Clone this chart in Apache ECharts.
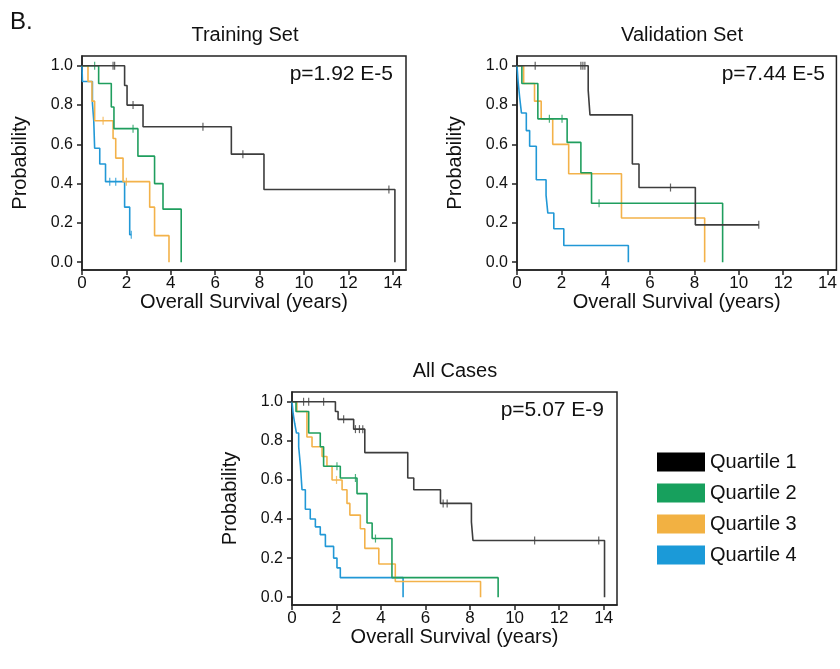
<!DOCTYPE html>
<html>
<head>
<meta charset="utf-8">
<script src="https://cdn.jsdelivr.net/npm/echarts@6/dist/echarts.min.js"></script>
<style>
  html, body { margin: 0; padding: 0; background: #fff; }
  #main { width: 840px; height: 669px; }
</style>
</head>
<body>
<div id="main"></div>
<script>
// Kaplan-Meier curves: T = event times (years), S = survival after the step
var quartiles = ['Quartile 1', 'Quartile 2', 'Quartile 3', 'Quartile 4'];
var xTicks = [0, 2, 4, 6, 8, 10, 12, 14];
var yTicks = [0, 0.2, 0.4, 0.6, 0.8, 1.0];

// Training Set
var trainQ1T = [0, 1.92, 2.03, 2.75, 6.73, 8.2, 14.1];
var trainQ1S = [1, 0.9, 0.8, 0.69, 0.55, 0.37, 0];
var trainQ1C = [1.4, 1.47, 2.3, 5.45, 7.25, 13.83];
var trainQ2T = [0, 0.75, 1.32, 1.44, 2.52, 3.27, 3.65, 4.47];
var trainQ2S = [1, 0.91, 0.79, 0.68, 0.54, 0.4, 0.27, 0];
var trainQ2C = [0.57, 2.3];
var trainQ3T = [0, 0.27, 0.45, 0.57, 1.4, 1.52, 1.85, 3.05, 3.27, 3.92];
var trainQ3S = [1, 0.92, 0.82, 0.72, 0.63, 0.53, 0.41, 0.28, 0.135, 0];
var trainQ3C = [0.95, 2.0];
var trainQ4T = [0, 0.02, 0.47, 0.53, 0.57, 0.8, 1.06, 1.92, 2.15, 2.22];
var trainQ4S = [1, 0.92, 0.81, 0.72, 0.58, 0.5, 0.41, 0.28, 0.14, 0.14];
var trainQ4C = [1.25, 1.52, 2.22];

// Validation Set
var validQ1T = [0, 3.21, 3.29, 5.2, 5.5, 8.04, 10.9];
var validQ1S = [1, 0.875, 0.75, 0.5, 0.38, 0.19, 0.19];
var validQ1C = [0.82, 2.88, 2.97, 3.06, 6.92, 10.9];
var validQ2T = [0, 0.22, 0.94, 2.26, 2.88, 3.36, 9.27];
var validQ2S = [1, 0.91, 0.73, 0.61, 0.455, 0.3, 0];
var validQ2C = [1.46, 2.03, 3.7];
var validQ3T = [0, 0.3, 0.79, 1.09, 1.61, 2.33, 4.71, 8.46];
var validQ3S = [1, 0.91, 0.82, 0.73, 0.6, 0.45, 0.225, 0];
var validQ3C = [];
var validQ4T = [0, 0.05, 0.12, 0.2, 0.42, 0.57, 0.87, 1.31, 1.39, 1.66, 2.11, 5.02];
var validQ4S = [1, 0.92, 0.84, 0.76, 0.67, 0.59, 0.42, 0.34, 0.25, 0.17, 0.085, 0];
var validQ4C = [];

// All Cases
var allQ1T = [0, 1.95, 2.07, 2.77, 3.27, 5.2, 5.47, 6.67, 8.06, 8.13, 14.04];
var allQ1S = [1, 0.95, 0.91, 0.86, 0.74, 0.61, 0.55, 0.48, 0.385, 0.29, 0];
var allQ1C = [0.52, 0.75, 1.42, 2.32, 2.85, 3.03, 3.18, 6.79, 6.97, 10.9, 13.78];
var allQ2T = [0, 0.18, 0.75, 1.27, 1.42, 2.17, 2.92, 3.37, 3.6, 4.49, 9.26];
var allQ2S = [1, 0.95, 0.84, 0.77, 0.67, 0.61, 0.53, 0.38, 0.3, 0.1, 0];
var allQ2C = [2.02, 2.85, 3.75];
var allQ3T = [0, 0.22, 0.67, 0.9, 1.35, 1.57, 1.8, 2.25, 2.47, 2.6, 3.07, 3.27, 3.9, 4.64, 8.47];
var allQ3S = [1, 0.95, 0.82, 0.77, 0.72, 0.67, 0.6, 0.55, 0.48, 0.42, 0.35, 0.25, 0.17, 0.08, 0];
var allQ3C = [2.0];
var allQ4T = [0, 0.05, 0.12, 0.2, 0.3, 0.38, 0.45, 0.6, 0.82, 1.05, 1.27, 1.5, 1.87, 2.02, 2.17, 4.99];
var allQ4S = [1, 0.94, 0.89, 0.84, 0.77, 0.67, 0.55, 0.45, 0.4, 0.36, 0.32, 0.26, 0.2, 0.15, 0.1, 0];
var allQ4C = [];

var lineColors = ['#3d3d3d', '#1f9e5e', '#f3b24a', '#2198d6'];
var legendColors = ['#000000', '#17a05d', '#f2b142', '#1b9ad8'];
var font = 'Liberation Sans';

var panels = [
  { title: 'Training Set', p: 'p=1.92 E-5', curves: [
    [trainQ1T, trainQ1S, trainQ1C], [trainQ2T, trainQ2S, trainQ2C],
    [trainQ3T, trainQ3S, trainQ3C], [trainQ4T, trainQ4S, trainQ4C]] },
  { title: 'Validation Set', p: 'p=7.44 E-5', curves: [
    [validQ1T, validQ1S, validQ1C], [validQ2T, validQ2S, validQ2C],
    [validQ3T, validQ3S, validQ3C], [validQ4T, validQ4S, validQ4C]] },
  { title: 'All Cases', p: 'p=5.07 E-9', curves: [
    [allQ1T, allQ1S, allQ1C], [allQ2T, allQ2S, allQ2C],
    [allQ3T, allQ3S, allQ3C], [allQ4T, allQ4S, allQ4C]] }
];

var grids = [
  { left: 82, top: 56, width: 324, height: 214, xmax: 14.6, titleX: 245 },
  { left: 517, top: 56, width: 321, height: 214, xmax: 14.4, titleX: 682 },
  { left: 292, top: 392, width: 325, height: 213, xmax: 14.6, titleX: 455 }
];

function survAt(T, S, t) {
  var v = S[0];
  for (var i = 0; i < T.length; i++) { if (T[i] <= t) v = S[i]; }
  return v;
}

var gridOpt = [], xAxes = [], yAxes = [], series = [], graphics = [];

grids.forEach(function (g, gi) {
  gridOpt.push({ left: g.left, top: g.top, width: g.width, height: g.height,
    show: true, borderColor: '#222', borderWidth: 1.5, containLabel: false });
  xAxes.push({
    type: 'value', gridIndex: gi, min: 0, max: g.xmax,
    name: 'Overall Survival (years)', nameLocation: 'middle', nameGap: 17,
    nameTextStyle: { fontFamily: font, fontSize: 20, color: '#111', verticalAlign: 'top' },
    axisLine: { show: true, onZero: false, lineStyle: { color: '#222', width: 1.5 } },
    axisTick: { show: true, length: 5, customValues: xTicks, lineStyle: { color: '#222', width: 1.5 } },
    axisLabel: { customValues: xTicks, margin: 5, fontFamily: font, fontSize: 17, color: '#111' },
    splitLine: { show: false }
  });
  yAxes.push({
    type: 'value', gridIndex: gi, min: -0.04, max: 1.05,
    name: 'Probability', nameLocation: 'middle', nameGap: 52, nameRotate: 90,
    nameTextStyle: { fontFamily: font, fontSize: 20, color: '#111' },
    axisLine: { show: true, onZero: false, lineStyle: { color: '#222', width: 1.5 } },
    axisTick: { show: true, length: 5, customValues: yTicks, lineStyle: { color: '#222', width: 1.5 } },
    axisLabel: { customValues: yTicks, margin: 9, fontFamily: font, fontSize: 16, color: '#111',
      formatter: function (v) { return v.toFixed(1); } },
    splitLine: { show: false }
  });

  var pan = panels[gi];
  graphics.push({ type: 'text', x: g.titleX, y: g.top - 21,
    style: { text: pan.title, font: '20px "' + font + '"', fill: '#111',
      textAlign: 'center', textVerticalAlign: 'middle' } });
  graphics.push({ type: 'text', x: g.left + g.width - 13, y: g.top + 18,
    style: { text: pan.p, font: '21px "' + font + '"', fill: '#111',
      textAlign: 'right', textVerticalAlign: 'middle' } });

  pan.curves.forEach(function (c, qi) {
    var T = c[0], S = c[1], C = c[2];
    series.push({
      name: quartiles[qi], type: 'line', xAxisIndex: gi, yAxisIndex: gi,
      step: 'end', showSymbol: false, silent: true, z: 5 - qi,
      lineStyle: { color: lineColors[qi], width: 1.6 },
      itemStyle: { color: legendColors[qi] },
      data: T.map(function (t, i) { return [t, S[i]]; })
    });
    if (C.length) {
      series.push({
        name: quartiles[qi], type: 'scatter', xAxisIndex: gi, yAxisIndex: gi,
        symbol: 'rect', symbolSize: [1.2, 8], silent: true, z: 5 - qi,
        itemStyle: { color: lineColors[qi] },
        data: C.map(function (t) { return [t, survAt(T, S, t)]; })
      });
    }
  });
});

graphics.push({ type: 'text', x: 10, y: 22,
  style: { text: 'B.', font: '24px "' + font + '"', fill: '#111', textVerticalAlign: 'middle' } });

var myChart = echarts.init(document.getElementById('main'), null, { renderer: 'canvas' });
var option = {
  backgroundColor: '#fff',
  animation: false,
  grid: gridOpt,
  xAxis: xAxes,
  yAxis: yAxes,
  series: series,
  graphic: graphics,
  legend: {
    orient: 'vertical', left: 652, top: 447,
    icon: 'rect', itemWidth: 48, itemHeight: 19, itemGap: 11,
    textStyle: { fontFamily: font, fontSize: 20, color: '#111', padding: [0, 0, 0, 0] },
    data: quartiles.map(function (q, i) { return { name: q, itemStyle: { color: legendColors[i] } }; })
  }
};
option && myChart.setOption(option);
</script>
</body>
</html>
